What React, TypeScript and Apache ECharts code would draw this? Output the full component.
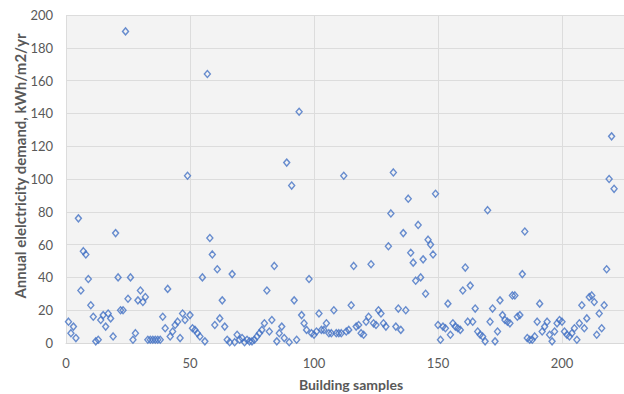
import React, { useEffect, useRef } from "react";
import * as echarts from "echarts";

// Annual electricity demand (kWh/m2/yr) for building samples 1..221
const demand: number[] = [
  13, 6, 10, 3, 76, 32, 56, 54, 39, 23,
  16, 1, 2, 14, 17, 10, 18, 15, 4, 67,
  40, 20, 20, 190, 27, 40, 2, 6, 26, 32,
  25, 28, 2, 2, 2, 2, 2, 2, 16, 9,
  33, 4, 7, 11, 13, 3, 18, 14, 102, 17,
  9, 8, 6, 4, 40, 1, 164, 64, 54, 11,
  45, 15, 26, 10, 2, 0.5, 42, 0.5, 5, 2,
  3, 0.5, 2, 1, 1, 2, 4, 6, 8, 12,
  32, 7, 14, 47, 1, 6, 10, 3, 110, 0.5,
  96, 26, 2, 141, 17, 12, 8, 39, 6, 5,
  7, 18, 8, 8, 12, 6, 6, 20, 6, 6,
  6, 102, 7, 8, 23, 47, 10, 11, 6, 5,
  13, 16, 48, 12, 11, 20, 18, 12, 10, 59,
  79, 104, 10, 21, 8, 67, 20, 88, 55, 49,
  38, 72, 40, 51, 30, 63, 60, 54, 91, 11,
  2, 10, 9, 24, 5, 12, 10, 9, 8, 32,
  46, 13, 35, 13, 21, 7, 5, 4, 1, 81,
  13, 21, 1, 7, 26, 17, 14, 13, 12, 29,
  29, 16, 17, 42, 68, 3, 2, 2, 4, 13,
  24, 7, 10, 13, 5, 1, 7, 12, 14, 13,
  7, 5, 4, 6, 9, 2, 12, 23, 9, 15,
  28, 29, 25, 5, 18, 9, 23, 45, 100, 126, 94,
];
const sampleIds: number[] = demand.map((_, i) => i + 1);

const xTicks = { min: 0, max: 225, interval: 50 };
const yTicks = { min: 0, max: 200, interval: 20 };

const xTitle = "Building samples";
const yTitle = "Annual elelctricity demand, kWh/m2/yr";

export default function App() {
  const ref = useRef<HTMLDivElement>(null);
  useEffect(() => {
    if (!ref.current) return;
    const chart = echarts.init(ref.current, undefined, { renderer: "svg" });
    const font = "Lato, 'Open Sans', sans-serif";
    chart.setOption({
      animation: false,
      backgroundColor: "#ffffff",
      grid: {
        left: 66,
        right: 0,
        top: 15,
        bottom: 51,
        show: true,
        backgroundColor: "#f3f3f3",
        borderWidth: 0,
      },
      graphic: [
        {
          type: "text",
          x: 20,
          y: 166,
          rotation: Math.PI / 2,
          style: {
            text: yTitle,
            fill: "#595959",
            font: `bold 15px ${font}`,
            textAlign: "center",
            textVerticalAlign: "middle",
          },
        },
        {
          type: "text",
          x: 351,
          y: 384,
          style: {
            text: xTitle,
            fill: "#595959",
            font: `bold 14px ${font}`,
            textAlign: "center",
            textVerticalAlign: "middle",
          },
        },
      ],
      xAxis: {
        type: "value",
        min: xTicks.min,
        max: xTicks.max,
        interval: xTicks.interval,
        axisLine: { show: true, lineStyle: { color: "#d9d9d9" } },
        axisTick: { show: false },
        axisLabel: { color: "#595959", fontSize: 13, fontFamily: font, margin: 13, showMaxLabel: false },
        splitLine: { show: true, lineStyle: { color: "#dcdcdc", width: 1 } },
      },
      yAxis: {
        type: "value",
        min: yTicks.min,
        max: yTicks.max,
        interval: yTicks.interval,
        axisLine: { show: false },
        axisTick: { show: false },
        axisLabel: { color: "#595959", fontSize: 13, fontFamily: font, margin: 13 },
        splitLine: { show: true, lineStyle: { color: "#dcdcdc", width: 1 } },
      },
      series: [
        {
          type: "scatter",
          symbol: "diamond",
          symbolSize: [6, 7],
          data: sampleIds.map((x, i) => [x, demand[i]]),
          itemStyle: { color: "rgba(255,255,255,0)", borderColor: "#4472C4", borderWidth: 1.4 },
        },
      ],
    });
    return () => chart.dispose();
  }, []);
  return (
    <div
      ref={ref}
      style={{ position: "fixed", left: 0, top: 0, width: 624, height: 394 }}
    />
  );
}
